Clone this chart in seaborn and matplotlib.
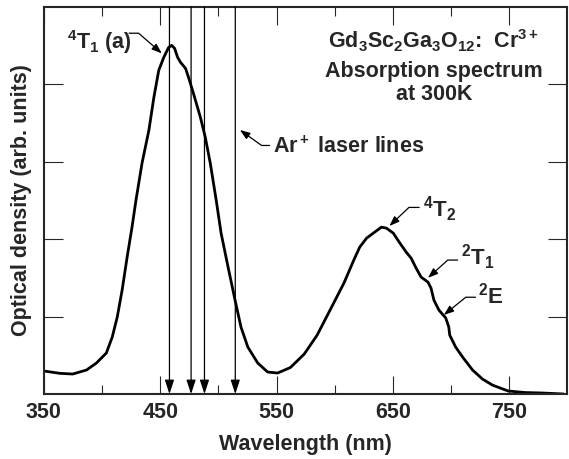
import matplotlib
matplotlib.use("Agg")
import matplotlib.pyplot as plt
import seaborn as sns
import pandas as pd

# absorption spectrum (arb. units)
wavelength = [350.0, 363.6, 374.7, 386.6, 395.1, 403.6, 408.7, 413.0, 417.2, 421.5,
              425.7, 429.1, 434.3, 440.2, 444.5, 448.7, 453.0, 457.2, 459.8, 462.3,
              464.9, 467.4, 471.7, 474.3, 478.5, 484.5, 488.7, 493.0, 498.1, 502.3,
              508.3, 514.3, 519.4, 525.3, 533.8, 542.3, 550.9, 561.9, 573.8, 584.9,
              596.0, 607.9, 616.4, 621.5, 627.4, 634.3, 640.2, 644.5, 650.4, 655.5,
              661.5, 665.7, 670.0, 674.3, 680.2, 682.8, 685.3, 689.6, 695.5, 698.1,
              698.9, 704.0, 710.0, 718.5, 727.0, 735.5, 749.1, 763.6, 778.1, 796.8]
density = [0.297, 0.267, 0.258, 0.310, 0.400, 0.529, 0.735, 0.994, 1.342, 1.768,
           2.155, 2.503, 2.981, 3.406, 3.832, 4.181, 4.348, 4.477, 4.503, 4.465,
           4.348, 4.284, 4.206, 4.090, 3.884, 3.574, 3.316, 2.981, 2.503, 2.077,
           1.639, 1.213, 0.865, 0.606, 0.400, 0.284, 0.271, 0.342, 0.516, 0.761,
           1.084, 1.432, 1.729, 1.897, 2.013, 2.090, 2.155, 2.142, 2.077, 1.961,
           1.832, 1.755, 1.626, 1.510, 1.445, 1.368, 1.213, 1.084, 0.981, 0.865,
           0.761, 0.606, 0.477, 0.310, 0.194, 0.116, 0.039, 0.019, 0.013, 0.0]
laser_lines = [457.9, 476.5, 488.0, 514.5]
xticks_major = [350, 450, 550, 650, 750]
xticks_minor = [400, 500, 600, 700]

df = pd.DataFrame({'wl': wavelength, 'od': density})

sns.set_style("ticks")
plt.rcParams['font.family'] = ['Liberation Sans', 'DejaVu Sans']
plt.rcParams['font.weight'] = 'bold'
plt.rcParams['mathtext.fontset'] = 'custom'
plt.rcParams['mathtext.rm'] = 'Liberation Sans:bold'
plt.rcParams['mathtext.bf'] = 'Liberation Sans:bold'
plt.rcParams['mathtext.it'] = 'Liberation Sans:bold'

FS = 15.5

fig = plt.figure(figsize=(5.69, 4.59), dpi=100)
ax = fig.add_axes([0.0773, 0.1416, 0.9197, 0.8434])

sns.lineplot(data=df, x='wl', y='od', color='black', linewidth=2.0,
             estimator=None, sort=False, ax=ax)

# Ar+ laser lines with arrowheads at the axis
for wl in laser_lines:
    ax.annotate('', xy=(wl, 0), xytext=(wl, 5),
                arrowprops=dict(arrowstyle='-|>,head_length=0.85,head_width=0.28',
                                color='black', lw=0.9, shrinkA=0, shrinkB=0,
                                mutation_scale=10))

ax.set_xlim(350, 800)
ax.set_ylim(0, 5)
ax.set_xticks(xticks_major)
ax.set_xticks(xticks_minor, minor=True)
ax.set_yticks([1, 2, 3, 4])
ax.set_yticklabels([])
ax.tick_params(axis='x', which='major', direction='in', length=13, width=0.8,
               top=True, labelsize=FS, pad=6)
ax.tick_params(axis='x', which='minor', direction='in', length=6.5, width=0.8, top=True)
ax.tick_params(axis='y', which='major', direction='in', length=13.5, width=0.8, right=True)
for s in ax.spines.values():
    s.set_linewidth(1.5)
    s.set_visible(True)

ax.set_xlabel('Wavelength (nm)', fontsize=FS, fontweight='bold', labelpad=8)
ax.set_ylabel('Optical density (arb. units)', fontsize=FS, fontweight='bold', labelpad=5)

# labels and leader arrows
arrow_kw = dict(arrowstyle='-|>,head_length=0.6,head_width=0.22', color='black',
                lw=0.9, shrinkA=0, shrinkB=0, mutation_scale=10)

ax.text(369.6, 4.46, '$^4$T$_1$ (a)', fontsize=FS, ha='left', va='baseline')
ax.annotate('', xy=(451.3, 4.40), xytext=(423.2, 4.66),
            arrowprops=dict(connectionstyle='angle,angleA=0,angleB=-41,rad=0', **arrow_kw))

ax.text(546.6, 3.11, 'Ar$^+$ laser lines', fontsize=FS, ha='left', va='baseline')
ax.annotate('', xy=(518.5, 3.41), xytext=(544, 3.21),
            arrowprops=dict(connectionstyle='angle,angleA=0,angleB=-35.5,rad=0', **arrow_kw))

ax.text(676, 2.284, '$^4$T$_2$', fontsize=16, ha='left', va='baseline')
ax.annotate('', xy=(647, 2.17), xytext=(672.6, 2.41),
            arrowprops=dict(connectionstyle='angle,angleA=0,angleB=43.5,rad=0', **arrow_kw))

ax.text(708.3, 1.665, '$^2$T$_1$', fontsize=16, ha='left', va='baseline')
ax.annotate('', xy=(680.2, 1.50), xytext=(705.7, 1.73),
            arrowprops=dict(connectionstyle='angle,angleA=0,angleB=42,rad=0', **arrow_kw))

ax.text(722.8, 1.174, '$^2$E', fontsize=16, ha='left', va='baseline')
ax.annotate('', xy=(693.8, 1.02), xytext=(721, 1.25),
            arrowprops=dict(connectionstyle='angle,angleA=0,angleB=39,rad=0', **arrow_kw))

ax.text(685.3, 4.46, 'Gd$_3$Sc$_2$Ga$_3$O$_{12}$:  Cr$^{3+}$', fontsize=FS,
        ha='center', va='baseline')
ax.text(685.3, 4.10, 'Absorption spectrum', fontsize=FS, ha='center', va='baseline')
ax.text(685.3, 3.80, 'at 300K', fontsize=FS, ha='center', va='baseline')

fig.savefig('out.png', dpi=100)
